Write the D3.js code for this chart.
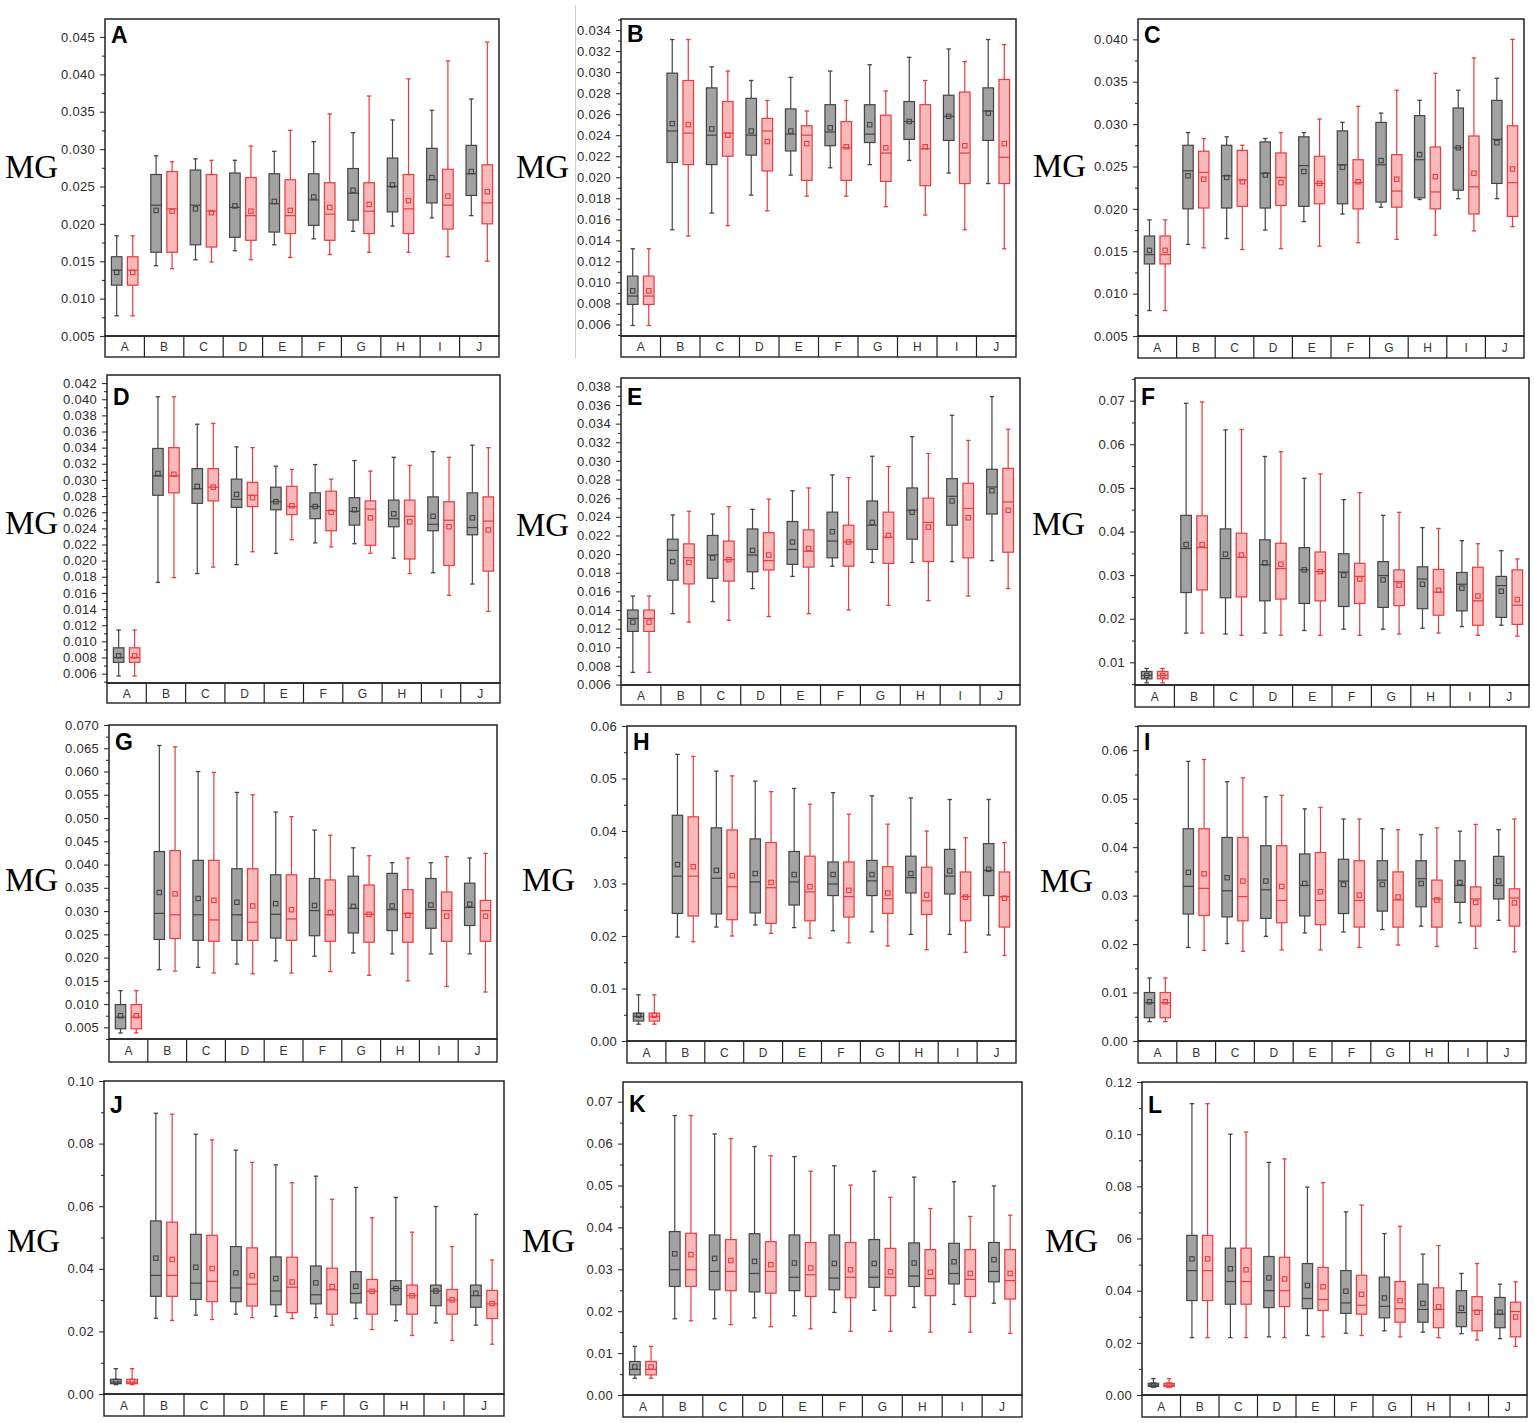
<!DOCTYPE html>
<html>
<head>
<meta charset="utf-8">
<script src="https://cdn.jsdelivr.net/npm/d3@7"></script>
<style>
  body { margin: 0; background: #fff; }
  svg { display: block; }
</style>
</head>
<body>
<div id="chart"></div>
<script>
// groups on the x axis
const categories = ['A', 'B', 'C', 'D', 'E', 'F', 'G', 'H', 'I', 'J'];

// every row: [whisker low, Q1, median, Q3, whisker high, mean]
const aGray = [[0.0077,0.0118,0.0138,0.0156,0.0184,0.0135],[0.0144,0.0162,0.0225,0.0266,0.0291,0.0218],[0.0152,0.0172,0.0225,0.0272,0.0287,0.0220],[0.0164,0.0182,0.0222,0.0268,0.0285,0.0224],[0.0172,0.0189,0.0227,0.0267,0.0297,0.0230],[0.0180,0.0198,0.0232,0.0267,0.0310,0.0236],[0.0190,0.0205,0.0241,0.0274,0.0322,0.0245],[0.0197,0.0216,0.0250,0.0288,0.0339,0.0252],[0.0208,0.0228,0.0259,0.0301,0.0352,0.0262],[0.0211,0.0238,0.0267,0.0305,0.0367,0.0270]];
const aRed  = [[0.0077,0.0118,0.0138,0.0156,0.0184,0.0135],[0.0140,0.0162,0.0220,0.0270,0.0283,0.0217],[0.0149,0.0169,0.0217,0.0266,0.0285,0.0215],[0.0152,0.0178,0.0211,0.0262,0.0304,0.0217],[0.0155,0.0187,0.0211,0.0259,0.0325,0.0218],[0.0159,0.0178,0.0213,0.0255,0.0347,0.0222],[0.0162,0.0187,0.0217,0.0255,0.0371,0.0226],[0.0162,0.0187,0.0220,0.0266,0.0394,0.0231],[0.0156,0.0193,0.0225,0.0273,0.0418,0.0237],[0.0150,0.0200,0.0228,0.0279,0.0443,0.0243]];

const bGray = [[0.0059,0.0079,0.0087,0.0106,0.0132,0.0092],[0.0150,0.0214,0.0244,0.0299,0.0331,0.0251],[0.0166,0.0212,0.0240,0.0285,0.0305,0.0246],[0.0183,0.0221,0.0240,0.0275,0.0292,0.0244],[0.0202,0.0225,0.0241,0.0265,0.0295,0.0244],[0.0209,0.0230,0.0243,0.0269,0.0301,0.0247],[0.0212,0.0233,0.0241,0.0269,0.0307,0.0250],[0.0216,0.0236,0.0253,0.0272,0.0314,0.0253],[0.0204,0.0235,0.0258,0.0278,0.0322,0.0258],[0.0194,0.0235,0.0263,0.0285,0.0331,0.0261]];
const bRed  = [[0.0059,0.0079,0.0087,0.0106,0.0132,0.0092],[0.0144,0.0212,0.0242,0.0292,0.0331,0.0250],[0.0154,0.0220,0.0242,0.0272,0.0301,0.0240],[0.0168,0.0206,0.0244,0.0256,0.0273,0.0234],[0.0182,0.0197,0.0240,0.0249,0.0263,0.0232],[0.0182,0.0197,0.0228,0.0253,0.0273,0.0229],[0.0172,0.0196,0.0223,0.0259,0.0282,0.0228],[0.0164,0.0192,0.0227,0.0269,0.0292,0.0229],[0.0150,0.0194,0.0223,0.0281,0.0310,0.0230],[0.0132,0.0194,0.0219,0.0293,0.0326,0.0232]];

const cGray = [[0.0080,0.0135,0.0146,0.0168,0.0187,0.0151],[0.0158,0.0200,0.0245,0.0275,0.0290,0.0239],[0.0165,0.0201,0.0239,0.0275,0.0285,0.0237],[0.0175,0.0201,0.0242,0.0279,0.0283,0.0240],[0.0185,0.0203,0.0251,0.0285,0.0290,0.0244],[0.0194,0.0206,0.0252,0.0292,0.0302,0.0249],[0.0202,0.0208,0.0252,0.0302,0.0313,0.0257],[0.0211,0.0213,0.0258,0.0310,0.0328,0.0264],[0.0212,0.0222,0.0272,0.0319,0.0340,0.0272],[0.0212,0.0230,0.0282,0.0328,0.0354,0.0278]];
const cRed  = [[0.0080,0.0135,0.0146,0.0168,0.0187,0.0151],[0.0154,0.0201,0.0243,0.0268,0.0283,0.0235],[0.0152,0.0203,0.0234,0.0269,0.0275,0.0232],[0.0153,0.0204,0.0237,0.0266,0.0290,0.0231],[0.0156,0.0206,0.0230,0.0262,0.0306,0.0230],[0.0160,0.0200,0.0231,0.0258,0.0321,0.0232],[0.0164,0.0202,0.0221,0.0264,0.0340,0.0235],[0.0169,0.0200,0.0220,0.0273,0.0360,0.0238],[0.0174,0.0194,0.0226,0.0286,0.0378,0.0242],[0.0179,0.0191,0.0231,0.0298,0.0400,0.0247]];

const dGray = [[0.0057,0.0074,0.0080,0.0092,0.0114,0.0082],[0.0173,0.0281,0.0305,0.0339,0.0403,0.0308],[0.0184,0.0271,0.0289,0.0314,0.0369,0.0292],[0.0195,0.0266,0.0276,0.0301,0.0341,0.0282],[0.0209,0.0263,0.0273,0.0291,0.0317,0.0273],[0.0222,0.0252,0.0267,0.0284,0.0319,0.0267],[0.0221,0.0244,0.0261,0.0278,0.0324,0.0263],[0.0203,0.0242,0.0252,0.0275,0.0328,0.0258],[0.0185,0.0237,0.0245,0.0279,0.0335,0.0255],[0.0171,0.0232,0.0241,0.0284,0.0343,0.0253]];
const dRed  = [[0.0057,0.0074,0.0080,0.0092,0.0114,0.0082],[0.0179,0.0284,0.0305,0.0340,0.0403,0.0307],[0.0192,0.0274,0.0291,0.0314,0.0370,0.0291],[0.0211,0.0267,0.0281,0.0297,0.0340,0.0278],[0.0226,0.0257,0.0267,0.0292,0.0313,0.0268],[0.0217,0.0237,0.0262,0.0286,0.0301,0.0260],[0.0209,0.0219,0.0264,0.0274,0.0311,0.0253],[0.0184,0.0202,0.0255,0.0275,0.0318,0.0248],[0.0157,0.0194,0.0250,0.0273,0.0328,0.0242],[0.0137,0.0187,0.0249,0.0279,0.0340,0.0238]];

const eGray = [[0.0073,0.0117,0.0131,0.0140,0.0155,0.0127],[0.0136,0.0172,0.0204,0.0216,0.0242,0.0192],[0.0149,0.0174,0.0199,0.0220,0.0243,0.0196],[0.0163,0.0181,0.0199,0.0227,0.0248,0.0204],[0.0176,0.0189,0.0205,0.0235,0.0268,0.0213],[0.0187,0.0196,0.0214,0.0245,0.0285,0.0224],[0.0191,0.0205,0.0231,0.0257,0.0305,0.0234],[0.0191,0.0216,0.0247,0.0271,0.0326,0.0245],[0.0192,0.0231,0.0262,0.0281,0.0349,0.0257],[0.0193,0.0243,0.0272,0.0291,0.0369,0.0268]];
const eRed  = [[0.0073,0.0117,0.0131,0.0140,0.0155,0.0127],[0.0127,0.0168,0.0196,0.0211,0.0246,0.0191],[0.0129,0.0171,0.0194,0.0214,0.0251,0.0194],[0.0133,0.0183,0.0193,0.0223,0.0259,0.0199],[0.0136,0.0186,0.0203,0.0226,0.0271,0.0206],[0.0140,0.0187,0.0213,0.0231,0.0282,0.0213],[0.0145,0.0190,0.0218,0.0245,0.0294,0.0220],[0.0150,0.0192,0.0234,0.0260,0.0308,0.0229],[0.0155,0.0196,0.0249,0.0276,0.0322,0.0239],[0.0163,0.0202,0.0256,0.0292,0.0334,0.0247]];

const fGray = [[0.0053,0.0062,0.0070,0.0079,0.0086,0.0070],[0.0167,0.0260,0.0361,0.0437,0.0694,0.0370],[0.0165,0.0248,0.0338,0.0406,0.0633,0.0348],[0.0167,0.0241,0.0324,0.0381,0.0572,0.0328],[0.0173,0.0235,0.0312,0.0363,0.0522,0.0312],[0.0176,0.0228,0.0307,0.0349,0.0473,0.0300],[0.0176,0.0226,0.0299,0.0331,0.0437,0.0289],[0.0178,0.0223,0.0291,0.0319,0.0409,0.0279],[0.0182,0.0218,0.0279,0.0306,0.0379,0.0270],[0.0185,0.0203,0.0276,0.0297,0.0356,0.0263]];
const fRed  = [[0.0053,0.0062,0.0070,0.0079,0.0086,0.0070],[0.0167,0.0266,0.0363,0.0436,0.0697,0.0370],[0.0162,0.0250,0.0341,0.0396,0.0634,0.0346],[0.0162,0.0245,0.0315,0.0373,0.0583,0.0325],[0.0162,0.0241,0.0308,0.0353,0.0532,0.0308],[0.0162,0.0235,0.0297,0.0327,0.0489,0.0291],[0.0165,0.0230,0.0285,0.0312,0.0444,0.0277],[0.0167,0.0208,0.0261,0.0313,0.0407,0.0265],[0.0162,0.0185,0.0241,0.0318,0.0372,0.0252],[0.0160,0.0187,0.0231,0.0312,0.0337,0.0244]];

const gGray = [[0.0038,0.0047,0.0072,0.0099,0.0129,0.0075],[0.0174,0.0239,0.0295,0.0428,0.0656,0.0340],[0.0179,0.0237,0.0292,0.0409,0.0600,0.0327],[0.0186,0.0237,0.0292,0.0391,0.0555,0.0319],[0.0193,0.0242,0.0293,0.0378,0.0513,0.0316],[0.0203,0.0247,0.0301,0.0370,0.0474,0.0312],[0.0210,0.0253,0.0306,0.0375,0.0436,0.0310],[0.0208,0.0258,0.0303,0.0381,0.0404,0.0311],[0.0208,0.0263,0.0303,0.0370,0.0404,0.0313],[0.0208,0.0269,0.0308,0.0360,0.0414,0.0315]];
const gRed  = [[0.0038,0.0047,0.0072,0.0099,0.0129,0.0075],[0.0171,0.0241,0.0292,0.0430,0.0653,0.0337],[0.0167,0.0235,0.0281,0.0409,0.0598,0.0323],[0.0165,0.0237,0.0276,0.0391,0.0550,0.0311],[0.0167,0.0237,0.0283,0.0378,0.0503,0.0303],[0.0170,0.0235,0.0292,0.0367,0.0463,0.0297],[0.0162,0.0233,0.0293,0.0356,0.0419,0.0293],[0.0150,0.0233,0.0295,0.0346,0.0414,0.0291],[0.0138,0.0235,0.0301,0.0341,0.0417,0.0289],[0.0126,0.0235,0.0301,0.0323,0.0424,0.0289]];

const hGray = [[0.0032,0.0038,0.0047,0.0053,0.0088,0.0049],[0.0198,0.0243,0.0314,0.0430,0.0546,0.0336],[0.0217,0.0242,0.0310,0.0406,0.0514,0.0325],[0.0221,0.0244,0.0303,0.0385,0.0495,0.0319],[0.0216,0.0259,0.0303,0.0361,0.0481,0.0317],[0.0210,0.0277,0.0299,0.0341,0.0473,0.0317],[0.0208,0.0277,0.0305,0.0344,0.0467,0.0317],[0.0203,0.0282,0.0311,0.0352,0.0463,0.0319],[0.0203,0.0280,0.0314,0.0365,0.0460,0.0324],[0.0202,0.0277,0.0325,0.0376,0.0460,0.0327]];
const hRed  = [[0.0032,0.0038,0.0047,0.0053,0.0088,0.0049],[0.0189,0.0238,0.0314,0.0427,0.0542,0.0332],[0.0200,0.0231,0.0294,0.0402,0.0505,0.0315],[0.0205,0.0224,0.0292,0.0378,0.0475,0.0302],[0.0196,0.0229,0.0284,0.0352,0.0451,0.0294],[0.0187,0.0236,0.0275,0.0341,0.0432,0.0287],[0.0181,0.0243,0.0271,0.0332,0.0413,0.0282],[0.0174,0.0241,0.0267,0.0331,0.0400,0.0278],[0.0169,0.0229,0.0275,0.0322,0.0387,0.0274],[0.0163,0.0217,0.0275,0.0322,0.0378,0.0272]];

const iGray = [[0.0040,0.0048,0.0079,0.0100,0.0130,0.0081],[0.0193,0.0262,0.0319,0.0438,0.0577,0.0348],[0.0201,0.0256,0.0310,0.0420,0.0535,0.0337],[0.0216,0.0253,0.0312,0.0403,0.0504,0.0330],[0.0223,0.0258,0.0321,0.0386,0.0479,0.0325],[0.0225,0.0263,0.0330,0.0375,0.0458,0.0323],[0.0230,0.0268,0.0332,0.0372,0.0438,0.0323],[0.0237,0.0277,0.0335,0.0372,0.0426,0.0325],[0.0244,0.0286,0.0321,0.0372,0.0433,0.0327],[0.0249,0.0293,0.0321,0.0381,0.0436,0.0330]];
const iRed  = [[0.0040,0.0048,0.0079,0.0100,0.0130,0.0081],[0.0187,0.0259,0.0315,0.0438,0.0581,0.0345],[0.0185,0.0248,0.0298,0.0420,0.0543,0.0330],[0.0188,0.0244,0.0290,0.0403,0.0507,0.0319],[0.0188,0.0240,0.0290,0.0389,0.0482,0.0308],[0.0193,0.0235,0.0290,0.0372,0.0458,0.0301],[0.0198,0.0235,0.0291,0.0349,0.0436,0.0297],[0.0195,0.0235,0.0293,0.0332,0.0440,0.0291],[0.0191,0.0237,0.0293,0.0318,0.0447,0.0286],[0.0184,0.0237,0.0295,0.0314,0.0458,0.0285]];

const jGray = [[0.0030,0.0033,0.0038,0.0047,0.0081,0.0040],[0.0242,0.0312,0.0379,0.0553,0.0897,0.0434],[0.0252,0.0302,0.0354,0.0510,0.0830,0.0405],[0.0255,0.0295,0.0339,0.0471,0.0779,0.0387],[0.0248,0.0285,0.0329,0.0438,0.0732,0.0369],[0.0244,0.0288,0.0317,0.0409,0.0696,0.0355],[0.0241,0.0291,0.0321,0.0391,0.0660,0.0344],[0.0234,0.0285,0.0337,0.0362,0.0628,0.0337],[0.0227,0.0282,0.0329,0.0348,0.0599,0.0329],[0.0220,0.0277,0.0314,0.0348,0.0574,0.0322]];
const jRed  = [[0.0030,0.0033,0.0038,0.0047,0.0081,0.0040],[0.0235,0.0312,0.0379,0.0549,0.0894,0.0430],[0.0238,0.0295,0.0360,0.0507,0.0812,0.0401],[0.0244,0.0281,0.0351,0.0467,0.0740,0.0378],[0.0241,0.0260,0.0341,0.0437,0.0675,0.0358],[0.0220,0.0255,0.0333,0.0402,0.0622,0.0343],[0.0206,0.0255,0.0328,0.0366,0.0563,0.0328],[0.0187,0.0255,0.0314,0.0348,0.0517,0.0314],[0.0171,0.0255,0.0300,0.0334,0.0471,0.0301],[0.0159,0.0241,0.0288,0.0331,0.0428,0.0289]];

const kGray = [[0.0040,0.0048,0.0061,0.0080,0.0116,0.0067],[0.0182,0.0259,0.0299,0.0390,0.0667,0.0337],[0.0182,0.0251,0.0295,0.0382,0.0623,0.0326],[0.0184,0.0246,0.0290,0.0385,0.0593,0.0319],[0.0189,0.0249,0.0281,0.0382,0.0569,0.0315],[0.0197,0.0251,0.0279,0.0382,0.0547,0.0314],[0.0202,0.0257,0.0281,0.0371,0.0534,0.0314],[0.0209,0.0259,0.0284,0.0363,0.0520,0.0315],[0.0216,0.0265,0.0290,0.0362,0.0509,0.0318],[0.0219,0.0270,0.0295,0.0364,0.0499,0.0323]];
const kRed  = [[0.0040,0.0048,0.0061,0.0080,0.0116,0.0067],[0.0177,0.0259,0.0299,0.0386,0.0667,0.0335],[0.0168,0.0249,0.0295,0.0371,0.0612,0.0321],[0.0163,0.0243,0.0295,0.0366,0.0571,0.0311],[0.0158,0.0235,0.0287,0.0364,0.0534,0.0303],[0.0152,0.0232,0.0281,0.0364,0.0501,0.0299],[0.0152,0.0237,0.0281,0.0350,0.0472,0.0294],[0.0150,0.0237,0.0278,0.0347,0.0445,0.0293],[0.0150,0.0235,0.0276,0.0347,0.0426,0.0290],[0.0147,0.0229,0.0273,0.0347,0.0429,0.0290]];

const lGray = [[0.0031,0.0033,0.0038,0.0045,0.0063,0.0038],[0.0220,0.0362,0.0477,0.0612,0.1117,0.0522],[0.0220,0.0348,0.0435,0.0563,0.1000,0.0484],[0.0223,0.0335,0.0400,0.0531,0.0892,0.0449],[0.0228,0.0331,0.0370,0.0504,0.0797,0.0420],[0.0237,0.0313,0.0353,0.0477,0.0702,0.0398],[0.0246,0.0296,0.0340,0.0452,0.0619,0.0372],[0.0241,0.0279,0.0328,0.0425,0.0540,0.0351],[0.0235,0.0262,0.0316,0.0400,0.0466,0.0333],[0.0216,0.0258,0.0310,0.0374,0.0425,0.0317]];
const lRed  = [[0.0031,0.0033,0.0038,0.0045,0.0063,0.0038],[0.0220,0.0362,0.0477,0.0612,0.1117,0.0522],[0.0220,0.0348,0.0435,0.0563,0.1008,0.0480],[0.0220,0.0339,0.0400,0.0528,0.0905,0.0445],[0.0223,0.0324,0.0366,0.0489,0.0814,0.0415],[0.0228,0.0310,0.0344,0.0459,0.0728,0.0386],[0.0223,0.0279,0.0331,0.0435,0.0647,0.0362],[0.0220,0.0258,0.0328,0.0411,0.0573,0.0338],[0.0211,0.0246,0.0324,0.0377,0.0504,0.0317],[0.0186,0.0223,0.0320,0.0356,0.0434,0.0299]];

// y tick labels of each panel
const ticksA = [0.005, 0.010, 0.015, 0.020, 0.025, 0.030, 0.035, 0.040, 0.045];
const ticksB = [0.006, 0.008, 0.010, 0.012, 0.014, 0.016, 0.018, 0.020, 0.022, 0.024, 0.026, 0.028, 0.030, 0.032, 0.034];
const ticksC = [0.005, 0.010, 0.015, 0.020, 0.025, 0.030, 0.035, 0.040];
const ticksD = [0.006, 0.008, 0.010, 0.012, 0.014, 0.016, 0.018, 0.020, 0.022, 0.024, 0.026, 0.028, 0.030, 0.032, 0.034, 0.036, 0.038, 0.040, 0.042];
const ticksE = [0.006, 0.008, 0.010, 0.012, 0.014, 0.016, 0.018, 0.020, 0.022, 0.024, 0.026, 0.028, 0.030, 0.032, 0.034, 0.036, 0.038];
const ticksF = [0.01, 0.02, 0.03, 0.04, 0.05, 0.06, 0.07];
const ticksG = [0.005, 0.010, 0.015, 0.020, 0.025, 0.030, 0.035, 0.040, 0.045, 0.050, 0.055, 0.060, 0.065, 0.070];
const ticksH = [0.00, 0.01, 0.02, 0.03, 0.04, 0.05, 0.06];
const ticksI = [0.00, 0.01, 0.02, 0.03, 0.04, 0.05, 0.06];
const ticksJ = [0.00, 0.02, 0.04, 0.06, 0.08, 0.10];
const ticksK = [0.00, 0.01, 0.02, 0.03, 0.04, 0.05, 0.06, 0.07];
const ticksL = [0.00, 0.02, 0.04, 0.06, 0.08, 0.10, 0.12];

// layout: plot box [left, top, right, bottom], bottom of the category strip,
// position of the "MG" title, panel letter offset, white cover right of "MG"
const panels = [
  { key: 'A', gray: aGray, red: aRed, ticks: ticksA, fmt: '.3f', domain: [0.005, 0.0474], box: [105, 19, 499, 336], strip: 357, mg: [5, 178], letterDy: 24, cover: 0 },
  { key: 'B', gray: bGray, red: bRed, ticks: ticksB, fmt: '.3f', domain: [0.0049, 0.03505], box: [621, 19, 1016, 336], strip: 357, mg: [516, 178], letterDy: 23, cover: 0 },
  { key: 'C', gray: cGray, red: cRed, ticks: ticksC, fmt: '.3f', domain: [0.005, 0.0424], box: [1138, 19, 1524, 336], strip: 358, mg: [1033, 177], letterDy: 24, cover: 0 },
  { key: 'D', gray: dGray, red: dRed, ticks: ticksD, fmt: '.3f', domain: [0.00484, 0.043], box: [107, 375, 500, 683], strip: 703, mg: [5, 534], letterDy: 30, cover: 0 },
  { key: 'E', gray: eGray, red: eRed, ticks: ticksE, fmt: '.3f', domain: [0.00595, 0.0389], box: [621, 378, 1020, 685], strip: 705, mg: [516, 536], letterDy: 27, cover: 0 },
  { key: 'F', gray: fGray, red: fRed, ticks: ticksF, fmt: '.2f', domain: [0.0048, 0.0752], box: [1135, 378, 1529, 685], strip: 707, mg: [1032, 535], letterDy: 27, cover: 0 },
  { key: 'G', gray: gGray, red: gRed, ticks: ticksG, fmt: '.3f', domain: [0.0025, 0.070], box: [109, 725, 497, 1039], strip: 1062, mg: [5, 891], letterDy: 25, cover: 0 },
  { key: 'H', gray: hGray, red: hRed, ticks: ticksH, fmt: '.2f', domain: [0, 0.060], box: [627, 726, 1016, 1041], strip: 1063, mg: [522, 891], letterDy: 24, cover: 19 },
  { key: 'I', gray: iGray, red: iRed, ticks: ticksI, fmt: '.2f', domain: [0, 0.065], box: [1138, 726, 1526, 1041], strip: 1063, mg: [1040, 892], letterDy: 24, cover: 0 },
  { key: 'J', gray: jGray, red: jRed, ticks: ticksJ, fmt: '.2f', domain: [0, 0.100], box: [104, 1081, 504, 1394], strip: 1416, mg: [7, 1252], letterDy: 32, cover: 0 },
  { key: 'K', gray: kGray, red: kRed, ticks: ticksK, fmt: '.2f', domain: [0, 0.0747], box: [623, 1082, 1022, 1395], strip: 1417, mg: [522, 1252], letterDy: 30, cover: 0 },
  { key: 'L', gray: lGray, red: lRed, ticks: ticksL, fmt: '.2f', domain: [0, 0.120], box: [1142, 1082, 1527, 1395], strip: 1417, mg: [1045, 1252], letterDy: 31, cover: 18 }
];

const series = [
  { key: 'gray', fill: '#a2a2a2', stroke: '#444444' },
  { key: 'red', fill: '#f7b9b9', stroke: '#ec3a3d' }
];

const svg = d3.select('#chart').append('svg')
  .attr('width', 1535)
  .attr('height', 1423)
  .style('font-family', '"Liberation Sans", Arial, sans-serif');

svg.append('rect').attr('width', 1535).attr('height', 1423).attr('fill', '#fff');

// thin light divider left of panel B
svg.append('line')
  .attr('x1', 575.5).attr('x2', 575.5)
  .attr('y1', 5).attr('y2', 358)
  .attr('stroke', '#cfcfcf')
  .attr('stroke-width', 1);

panels.forEach(drawPanel);

function drawPanel(p) {
  const [x0, y0, x1, y1] = p.box;
  const $g = svg.append('g').attr('class', 'panel-' + p.key);

  const x = d3.scaleBand().domain(categories).range([x0, x1]);
  const sub = d3.scaleBand()
    .domain(series.map(s => s.key))
    .range([0, x.bandwidth()])
    .paddingInner(0.34)
    .paddingOuter(0.4);
  const y = d3.scaleLinear().domain(p.domain).range([y1, y0]);

  // minor ticks half way between the labelled ones
  const step = p.ticks[1] - p.ticks[0];
  const minor = [p.ticks[0] - step / 2]
    .concat(d3.pairs(p.ticks).map(([a, b]) => (a + b) / 2))
    .concat([p.ticks[p.ticks.length - 1] + step / 2])
    .filter(v => v >= p.domain[0] && v <= p.domain[1]);

  $g.append('g')
    .attr('transform', `translate(${x0},0)`)
    .call(d3.axisLeft(y).tickValues(minor).tickSize(3).tickFormat(''))
    .call(a => a.select('.domain').remove())
    .call(a => a.selectAll('line').attr('stroke', '#333').attr('stroke-width', 1.1));

  $g.append('g')
    .attr('transform', `translate(${x0},0)`)
    .call(d3.axisLeft(y).tickValues(p.ticks).tickSize(5).tickPadding(5).tickFormat(d3.format(p.fmt)))
    .call(a => a.select('.domain').remove())
    .call(a => a.selectAll('line').attr('stroke', '#333').attr('stroke-width', 1.1))
    .call(a => a.selectAll('text')
      .attr('fill', '#2a2a2a')
      .style('font-size', '13px')
      .style('letter-spacing', '0.3px')
      .style('font-family', '"Liberation Sans", Arial, sans-serif'));

  // boxes
  series.forEach(s => {
    const w = sub.bandwidth();
    const cx = w / 2;
    const $box = $g.append('g').selectAll('g')
      .data(p[s.key])
      .join('g')
      .attr('transform', (d, i) => `translate(${x(categories[i]) + sub(s.key)},0)`);

    $box.append('line')
      .attr('x1', cx).attr('x2', cx)
      .attr('y1', d => y(d[0])).attr('y2', d => y(d[1]))
      .attr('stroke', s.stroke).attr('stroke-width', 1.2);
    $box.append('line')
      .attr('x1', cx).attr('x2', cx)
      .attr('y1', d => y(d[3])).attr('y2', d => y(d[4]))
      .attr('stroke', s.stroke).attr('stroke-width', 1.2);
    [0, 4].forEach(k => {
      $box.append('line')
        .attr('x1', cx - 2.2).attr('x2', cx + 2.2)
        .attr('y1', d => y(d[k])).attr('y2', d => y(d[k]))
        .attr('stroke', s.stroke).attr('stroke-width', 1.3);
    });
    $box.append('rect')
      .attr('x', 0)
      .attr('y', d => y(d[3]))
      .attr('width', w)
      .attr('height', d => y(d[1]) - y(d[3]))
      .attr('fill', s.fill)
      .attr('stroke', s.stroke)
      .attr('stroke-width', 1.2);
    $box.append('line')
      .attr('x1', 0).attr('x2', w)
      .attr('y1', d => y(d[2])).attr('y2', d => y(d[2]))
      .attr('stroke', s.stroke).attr('stroke-width', 1.2);
    $box.append('rect')
      .attr('x', cx - 2.2)
      .attr('y', d => y(d[5]) - 2.2)
      .attr('width', 4.4).attr('height', 4.4)
      .attr('fill', 'none')
      .attr('stroke', s.stroke)
      .attr('stroke-width', 1.1);
  });

  // frame around the plot
  $g.append('rect')
    .attr('x', x0).attr('y', y0)
    .attr('width', x1 - x0).attr('height', y1 - y0)
    .attr('fill', 'none')
    .attr('stroke', '#222')
    .attr('stroke-width', 1.5);

  // category strip under the plot
  $g.append('rect')
    .attr('x', x0).attr('y', y1)
    .attr('width', x1 - x0).attr('height', p.strip - y1)
    .attr('fill', 'none')
    .attr('stroke', '#222')
    .attr('stroke-width', 1.4);
  $g.append('g').selectAll('line')
    .data(categories.slice(1))
    .join('line')
    .attr('x1', d => x(d)).attr('x2', d => x(d))
    .attr('y1', y1).attr('y2', p.strip)
    .attr('stroke', '#222')
    .attr('stroke-width', 1.2);
  $g.append('g').selectAll('text')
    .data(categories)
    .join('text')
    .attr('x', d => x(d) + x.bandwidth() / 2)
    .attr('y', (y1 + p.strip) / 2 + 4.5)
    .attr('text-anchor', 'middle')
    .attr('fill', '#333')
    .style('font-size', '12px')
    .text(d => d);

  // panel letter
  $g.append('text')
    .attr('x', x0 + 6)
    .attr('y', y0 + p.letterDy)
    .attr('fill', '#000')
    .style('font-size', '23px')
    .style('font-weight', 'bold')
    .text(p.key);

  // y title
  const $mg = $g.append('text')
    .attr('x', p.mg[0])
    .attr('y', p.mg[1])
    .attr('fill', '#000')
    .style('font-family', '"Liberation Serif", "Times New Roman", serif')
    .style('font-size', '33px')
    .text('MG');
  if (p.cover > 0) {
    const bb = $mg.node().getBBox();
    $g.insert('rect', () => $mg.node())
      .attr('x', bb.x - 2)
      .attr('y', bb.y)
      .attr('width', bb.width + 2 + p.cover)
      .attr('height', bb.height)
      .attr('fill', '#fff');
  }
}
</script>
</body>
</html>
